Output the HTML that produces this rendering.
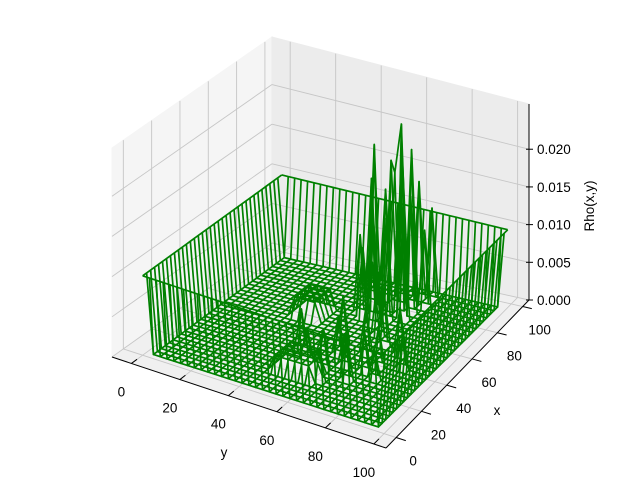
<!DOCTYPE html>
<html><head><meta charset="utf-8"><style>
html,body{margin:0;padding:0;background:#fff;}
svg{display:block;font-family:"Liberation Sans","DejaVu Sans",sans-serif;}
</style></head><body>
<svg id="chart" width="640" height="480" viewBox="0 0 640 480"></svg>
<script>
// ---- data ----
const yTicks = [0, 20, 40, 60, 80, 100];
const xTicks = [0, 20, 40, 60, 80, 100];
const zTicks = [0, 0.005, 0.010, 0.015, 0.020];
const zTickLabels = ["0.000", "0.005", "0.010", "0.015", "0.020"];
const gridCount = 36;
const rimValue = 0.0099;
// peaks: [y, x, rho]
const peakY = [62, 58, 55, 60, 65, 52, 68, 57, 63, 70, 50, 66, 60, 55, 72, 48, 53, 64, 69, 59, 62, 58, 65, 70, 75, 80, 68, 60, 72, 78, 66, 74, 84, 56, 50, 46];
const peakX = [82, 78, 75, 88, 85, 80, 80, 70, 72, 90, 72, 76, 65, 85, 84, 85, 68, 90, 74, 83, 20, 28, 35, 25, 40, 30, 45, 40, 55, 50, 60, 35, 42, 48, 30, 38];
const peakZ = [0.0235, 0.019, 0.021, 0.018, 0.020, 0.016, 0.015, 0.012, 0.013, 0.012, 0.010, 0.017, 0.008, 0.014, 0.010, 0.011, 0.009, 0.015, 0.013, 0.017, 0.004, 0.005, 0.004, 0.006, 0.005, 0.004, 0.006, 0.005, 0.007, 0.006, 0.008, 0.005, 0.004, 0.006, 0.004, 0.005];
// raised blocks: [y0, y1, x0, x1, rho]
const blockY0 = [30, 45];
const blockY1 = [42, 60];
const blockX0 = [55, 15];
const blockX1 = [70, 30];
const blockZ = [0.0025, 0.002];

// ---- projection ----
const Y0 = -8, Y1 = 105, X0 = -8, X1 = 105, ZMAX = 0.026;
const L = [112, 357], F = [386, 448], R = [529, 300], B = [272, 243];
const hL = 209, hF = 205, hR = 196, hB = 206;
function P(y, x, z){
  const u = (y-Y0)/(Y1-Y0), v = (x-X0)/(X1-X0);
  const wL=(1-u)*(1-v), wF=u*(1-v), wR=u*v, wB=(1-u)*v;
  const px = L[0]*wL+F[0]*wF+R[0]*wR+B[0]*wB;
  const py = L[1]*wL+F[1]*wF+R[1]*wR+B[1]*wB;
  const h = hL*wL+hF*wF+hR*wR+hB*wB;
  return [px, py - (z/ZMAX)*h];
}
const svg = document.getElementById('chart');
const NS = 'http://www.w3.org/2000/svg';
function mk(tag, attrs, parent){
  const el = document.createElementNS(NS, tag);
  for (const k in attrs) el.setAttribute(k, attrs[k]);
  (parent||svg).appendChild(el); return el;
}
function poly(pts){ return pts.map(p=>p[0].toFixed(2)+','+p[1].toFixed(2)).join(' '); }

let el;
el = mk('polygon', {points: poly([P(Y0,X0,0),P(Y1,X0,0),P(Y1,X1,0),P(Y0,X1,0)]), fill:'#f0f0f0', stroke:'#f0f0f0'});


el = mk('polygon', {points: poly([P(Y0,X0,0),P(Y0,X1,0),P(Y0,X1,ZMAX),P(Y0,X0,ZMAX)]), fill:'#f5f5f5', stroke:'#f5f5f5'});


el = mk('polygon', {points: poly([P(Y0,X1,0),P(Y1,X1,0),P(Y1,X1,ZMAX),P(Y0,X1,ZMAX)]), fill:'#ececec', stroke:'#ececec'});



const gg = mk('g', {stroke:'#c6c6c6', 'stroke-width':0.9, fill:'none'});


function ln(a,b,parent,attrs){ return mk('line', Object.assign({x1:a[0],y1:a[1],x2:b[0],y2:b[1]}, attrs||{}), parent); }
yTicks.forEach(t=>{ ln(P(t,X0,0),P(t,X1,0),gg); ln(P(t,X1,0),P(t,X1,ZMAX),gg); });
xTicks.forEach(t=>{ ln(P(Y0,t,0),P(Y1,t,0),gg); ln(P(Y0,t,0),P(Y0,t,ZMAX),gg); });
zTicks.forEach(t=>{ ln(P(Y0,X0,t),P(Y0,X1,t),gg); ln(P(Y0,X1,t),P(Y1,X1,t),gg); });

const ax = mk('g', {stroke:'#000', 'stroke-width':1, fill:'none'});


ln(P(Y0,X0,0),P(Y1,X0,0),ax);
ln(P(Y1,X0,0),P(Y1,X1,0),ax);
ln(P(Y1,X1,0),P(Y1,X1,ZMAX),ax);
const lbl = mk('g', {fill:'#000', 'font-size':'13.5px'});
yTicks.forEach(t=>{
  const p = P(t,X0,0), q = P(t,X0-4,0);
  ln(p,[p[0]+(p[0]-q[0]), p[1]+(p[1]-q[1])],ax);
  const tx = mk('text', {x:p[0]-10, y:p[1]+33, 'text-anchor':'middle'}, lbl);
  tx.textContent = String(t);
  
  
});
xTicks.forEach(t=>{
  const p = P(Y1,t,0), q = P(Y1-4,t,0);
  ln(p,[p[0]+(p[0]-q[0]), p[1]+(p[1]-q[1])],ax);
  const tx = mk('text', {x:p[0]+17, y:p[1]+28, 'text-anchor':'middle'}, lbl);
  tx.textContent = String(t);
  
  
});
zTicks.forEach((t,i)=>{
  const p = P(Y1,X1,t);
  ln([p[0]-3,p[1]],[p[0]+4,p[1]],ax);
  const tx = mk('text', {x:p[0]+8, y:p[1]+5, 'text-anchor':'start'}, lbl);
  tx.textContent = zTickLabels[i];
  
  
});
let t1 = mk('text', {x:224, y:457, 'text-anchor':'middle'}, lbl); t1.textContent='y';


let t2 = mk('text', {x:497, y:415, 'text-anchor':'middle'}, lbl); t2.textContent='x';


let t3 = mk('text', {x:0, y:0, 'text-anchor':'middle', transform:'translate(594,206) rotate(-90)'}, lbl); t3.textContent='Rho(x,y)';



const N = gridCount, gv = [];
for (let i=0;i<N;i++) gv.push(i*99/(N-1));
const Z = [];
for (let i=0;i<N;i++){ Z.push([]); for (let j=0;j<N;j++) Z[i].push(0); }
for (let b=0;b<blockZ.length;b++)
  for (let i=0;i<N;i++) for (let j=0;j<N;j++)
    if (gv[i]>=blockY0[b] && gv[i]<=blockY1[b] && gv[j]>=blockX0[b] && gv[j]<=blockX1[b]) Z[i][j]=blockZ[b];
function near(v){ return Math.max(0,Math.min(N-1,Math.round(v/99*(N-1)))); }
for (let k=0;k<peakZ.length;k++){ const i=near(peakY[k]), j=near(peakX[k]); Z[i][j]=Math.max(Z[i][j],peakZ[k]); }
for (let i=0;i<N;i++){ Z[i][0]=rimValue; Z[i][N-1]=rimValue; Z[0][i]=rimValue; Z[N-1][i]=rimValue; }

const wf = mk('g', {stroke:'#008000', 'stroke-width':1.7, fill:'none', 'stroke-linejoin':'round'});


for (let i=0;i<N;i++){
  const pts=[]; for (let j=0;j<N;j++) pts.push(P(gv[i],gv[j],Z[i][j]));
  const pl = mk('polyline', {points: poly(pts)}, wf);
  
  
}
for (let j=0;j<N;j++){
  const pts=[]; for (let i=0;i<N;i++) pts.push(P(gv[i],gv[j],Z[i][j]));
  const pl = mk('polyline', {points: poly(pts)}, wf);
  
  
}
</script>
</body></html>
